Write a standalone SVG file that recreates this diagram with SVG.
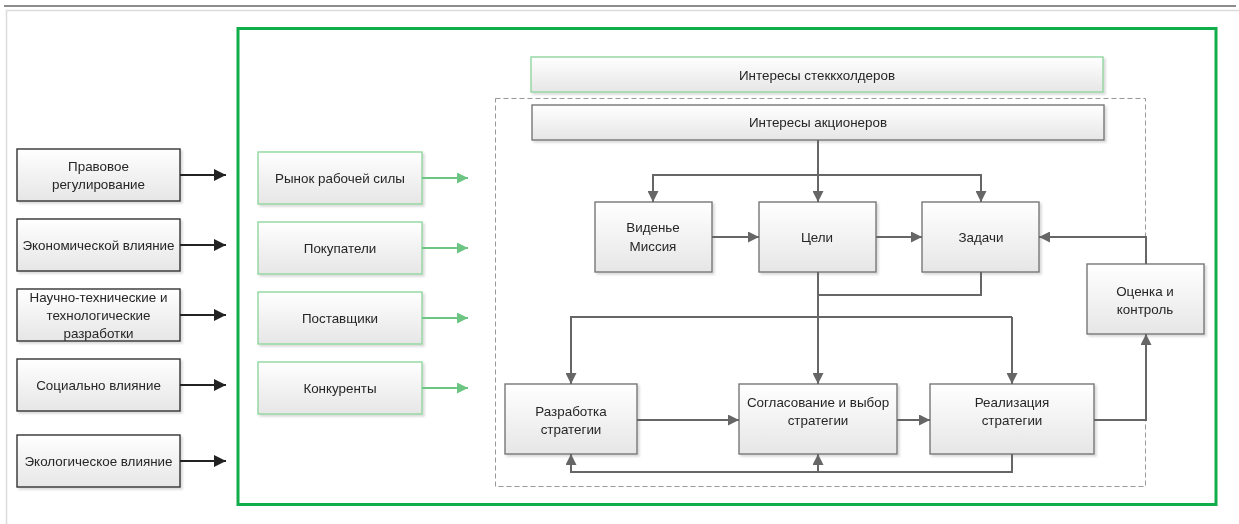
<svg xmlns="http://www.w3.org/2000/svg" width="1239" height="524" viewBox="0 0 1239 524">
  <style>
    text { font-family: "Liberation Sans", Arial, sans-serif; font-size: 13.4px; fill: #262626; text-anchor: middle; dominant-baseline: central; }
    .ext rect { fill: url(#gGray); stroke: #333; stroke-width: 1.4; }
    .mkt rect { fill: url(#gGray); stroke: #8fd6a0; stroke-width: 1.4; }
    .core rect { fill: url(#gGray); stroke: #777; stroke-width: 1.4; }
    .blk { fill: none; stroke: #222; stroke-width: 2; marker-end: url(#aBlack); }
    .grn { fill: none; stroke: #6cc583; stroke-width: 2; marker-end: url(#aGreen); }
    .gry { fill: none; stroke: #666; stroke-width: 2; }
    .arr { marker-end: url(#aGray); }
  </style>
  <defs>
    <linearGradient id="gGray" x1="0" y1="0" x2="0" y2="1">
      <stop offset="0" stop-color="#ffffff"/>
      <stop offset="1" stop-color="#e6e6e6"/>
    </linearGradient>
    <filter id="shadow" x="-5%" y="-5%" width="115%" height="120%">
      <feDropShadow dx="2" dy="2" stdDeviation="1" flood-color="#000" flood-opacity="0.15"/>
    </filter>
    <marker id="aBlack" viewBox="0 0 10 10" refX="10" refY="5" markerWidth="6" markerHeight="6" orient="auto" markerUnits="strokeWidth">
      <path d="M0,0 L10,5 L0,10 z" fill="#222"/>
    </marker>
    <marker id="aGreen" viewBox="0 0 10 10" refX="10" refY="5" markerWidth="5.5" markerHeight="5.5" orient="auto" markerUnits="strokeWidth">
      <path d="M0,0 L10,5 L0,10 z" fill="#6cc583"/>
    </marker>
    <marker id="aGray" viewBox="0 0 10 10" refX="10" refY="5" markerWidth="5.5" markerHeight="5.5" orient="auto" markerUnits="strokeWidth">
      <path d="M0,0 L10,5 L0,10 z" fill="#666"/>
    </marker>
  </defs>

  <!-- page frame -->
  <rect width="1239" height="524" fill="#fff"/>
  <line x1="4" y1="6" x2="1236" y2="6" stroke="#666" stroke-width="1.5"/>
  <path d="M6.5,530 V10.5 H1240" fill="none" stroke="#dcdcdc" stroke-width="1.5"/>

  <!-- organisation boundary -->
  <rect id="org-frame" x="238" y="28.5" width="978" height="476" fill="none" stroke="#0fae4a" stroke-width="3"/>
  <!-- strategic management area -->
  <rect id="mgmt-frame" x="495.5" y="98.5" width="650" height="388" fill="none" stroke="#999" stroke-width="1" stroke-dasharray="5,3"/>

  <!-- external environment -->
  <g id="pravo" class="ext" filter="url(#shadow)">
    <rect x="17" y="149" width="163" height="52"/>
    <text x="98.5" y="166">Правовое</text>
    <text x="98.5" y="184">регулирование</text>
  </g>
  <g id="econ" class="ext" filter="url(#shadow)">
    <rect x="17" y="219" width="163" height="52"/>
    <text x="98.5" y="245">Экономической влияние</text>
  </g>
  <g id="nauka" class="ext" filter="url(#shadow)">
    <rect x="17" y="289" width="163" height="52"/>
    <text x="98.5" y="297">Научно-технические и</text>
    <text x="98.5" y="315">технологические</text>
    <text x="98.5" y="333">разработки</text>
  </g>
  <g id="social" class="ext" filter="url(#shadow)">
    <rect x="17" y="359" width="163" height="52"/>
    <text x="98.5" y="385">Социально влияние</text>
  </g>
  <g id="ecology" class="ext" filter="url(#shadow)">
    <rect x="17" y="435" width="163" height="52"/>
    <text x="98.5" y="461">Экологическое влияние</text>
  </g>

  <!-- market environment -->
  <g id="labour" class="mkt" filter="url(#shadow)">
    <rect x="258" y="152" width="164" height="52"/>
    <text x="340" y="178">Рынок рабочей силы</text>
  </g>
  <g id="buyers" class="mkt" filter="url(#shadow)">
    <rect x="258" y="222" width="164" height="52"/>
    <text x="340" y="248">Покупатели</text>
  </g>
  <g id="suppliers" class="mkt" filter="url(#shadow)">
    <rect x="258" y="292" width="164" height="52"/>
    <text x="340" y="318">Поставщики</text>
  </g>
  <g id="rivals" class="mkt" filter="url(#shadow)">
    <rect x="258" y="362" width="164" height="52"/>
    <text x="340" y="388">Конкуренты</text>
  </g>

  <!-- interests -->
  <g id="stakeholders" class="mkt" filter="url(#shadow)">
    <rect x="531" y="57" width="572" height="35"/>
    <text x="817" y="75">Интересы стеккхолдеров</text>
  </g>
  <g id="shareholders" class="core" filter="url(#shadow)">
    <rect x="532" y="105" width="572" height="35"/>
    <text x="818" y="122">Интересы акционеров</text>
  </g>

  <!-- strategic process -->
  <g id="vision" class="core" filter="url(#shadow)">
    <rect x="595" y="202" width="117" height="70"/>
    <text x="653" y="227">Виденье</text>
    <text x="653" y="246">Миссия</text>
  </g>
  <g id="goals" class="core" filter="url(#shadow)">
    <rect x="759" y="202" width="117" height="70"/>
    <text x="817" y="237">Цели</text>
  </g>
  <g id="tasks" class="core" filter="url(#shadow)">
    <rect x="922" y="202" width="117" height="70"/>
    <text x="981" y="237">Задачи</text>
  </g>
  <g id="control" class="core" filter="url(#shadow)">
    <rect x="1087" y="264" width="117" height="70"/>
    <text x="1145" y="291">Оценка и</text>
    <text x="1145" y="309">контроль</text>
  </g>
  <g id="develop" class="core" filter="url(#shadow)">
    <rect x="505" y="384" width="132" height="70"/>
    <text x="571" y="411">Разработка</text>
    <text x="571" y="429">стратегии</text>
  </g>
  <g id="choice" class="core" filter="url(#shadow)">
    <rect x="739" y="384" width="158" height="70"/>
    <text x="818" y="402">Согласование и выбор</text>
    <text x="818" y="420">стратегии</text>
  </g>
  <g id="implement" class="core" filter="url(#shadow)">
    <rect x="930" y="384" width="164" height="70"/>
    <text x="1012" y="402">Реализация</text>
    <text x="1012" y="420">стратегии</text>
  </g>

  <!-- connectors -->
  <g id="connectors">
    <!-- external factors into the organisation -->
    <path class="blk" d="M180,175 H226"/>
    <path class="blk" d="M180,245 H226"/>
    <path class="blk" d="M180,315 H226"/>
    <path class="blk" d="M180,385 H226"/>
    <path class="blk" d="M180,461 H226"/>
    <!-- market factors -->
    <path class="grn" d="M422,178 H468"/>
    <path class="grn" d="M422,248 H468"/>
    <path class="grn" d="M422,318 H468"/>
    <path class="grn" d="M422,388 H468"/>
    <!-- shareholders down to vision, goals, tasks -->
    <path class="gry arr" d="M818,140 V202"/>
    <path class="gry arr" d="M818,175 H653 V202"/>
    <path class="gry arr" d="M818,175 H981 V202"/>
    <!-- horizontal flow -->
    <path class="gry arr" d="M712,237 H759"/>
    <path class="gry arr" d="M876,237 H922"/>
    <!-- control back to tasks -->
    <path class="gry arr" d="M1146,264 V237 H1039"/>
    <!-- goals and tasks down to strategy -->
    <path class="gry" d="M981,272 V295 H818"/>
    <path class="gry arr" d="M818,272 V384"/>
    <path class="gry arr" d="M1012,317 H571 V384"/>
    <path class="gry arr" d="M1012,317 V384"/>
    <path class="gry arr" d="M637,420 H739"/>
    <path class="gry arr" d="M897,420 H930"/>
    <!-- implementation to control -->
    <path class="gry arr" d="M1094,420 H1146 V334"/>
    <!-- feedback from implementation -->
    <path class="gry arr" d="M1012,454 V472 H571 V454"/>
    <path class="gry arr" d="M818,472 V454"/>
  </g>
</svg>
